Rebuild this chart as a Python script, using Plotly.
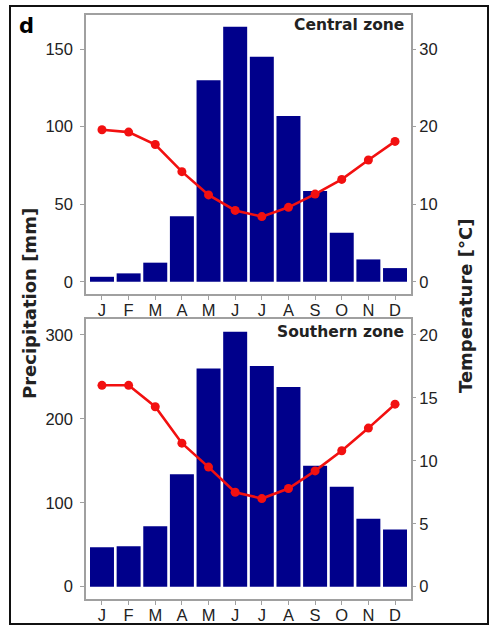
import plotly.graph_objects as go

# Monthly climate normals for two zones
months = ["J", "F", "M", "A", "M", "J", "J", "A", "S", "O", "N", "D"]
month_pos = list(range(1, 13))

central_precip = [3.2, 5.4, 12.3, 42.3, 130, 164.5, 145, 106.8, 58.5, 31.6, 14.4, 8.8]
central_temp = [19.6, 19.3, 17.7, 14.2, 11.2, 9.2, 8.4, 9.6, 11.3, 13.2, 15.7, 18.1]

southern_precip = [47, 48, 72, 134, 260, 304, 263, 238, 144, 119, 81, 68]
southern_temp = [16.0, 16.0, 14.3, 11.4, 9.5, 7.5, 7.0, 7.8, 9.2, 10.8, 12.6, 14.5]

W, H = 491, 627
BAR = "#00008B"
RED = "#F21010"
FRAME = "#A0A0A0"
TXT = "#222222"
TICKFONT = dict(family="Liberation Sans, Arial, sans-serif", size=16.5, color=TXT)
BOLD = "DejaVu Sans"

fig = go.Figure()

panels = [
    dict(precip=central_precip, temp=central_temp, x="x", yp="y", yt="y2"),
    dict(precip=southern_precip, temp=southern_temp, x="x2", yp="y3", yt="y4"),
]
for p in panels:
    fig.add_trace(go.Bar(x=month_pos, y=p["precip"], xaxis=p["x"], yaxis=p["yp"],
                         marker=dict(color=BAR, line=dict(width=0)), showlegend=False))
    fig.add_trace(go.Scatter(x=month_pos, y=p["temp"], xaxis=p["x"], yaxis=p["yt"],
                             mode="lines+markers", line=dict(color=RED, width=2.6),
                             marker=dict(color=RED, size=9), showlegend=False))


def px_x(v):
    return v / W


def px_y(v):
    return 1 - v / H


xdom = [px_x(86), px_x(411)]
top_dom = [px_y(294), px_y(15)]
bot_dom = [px_y(599.3), px_y(319.3)]

xcommon = dict(domain=xdom, range=[0.4, 12.6], tickvals=month_pos, ticktext=months,
               showline=True, mirror=True, linecolor=FRAME, linewidth=1.5,
               ticks="outside", ticklen=4, tickcolor=FRAME, tickfont=TICKFONT,
               ticklabelstandoff=-4, showgrid=False, zeroline=False, fixedrange=True)
ycommon = dict(showline=True, mirror=True, linecolor=FRAME, linewidth=1.5,
               ticks="outside", ticklen=4, tickcolor=FRAME, tickfont=TICKFONT,
               ticklabelstandoff=4, showgrid=False, zeroline=False)
y2common = dict(showline=False, ticks="outside", ticklen=4, tickcolor=FRAME,
                tickfont=TICKFONT, ticklabelstandoff=0, showgrid=False,
                zeroline=False, side="right")

fig.update_layout(
    width=W, height=H,
    margin=dict(l=0, r=0, t=0, b=0),
    paper_bgcolor="white", plot_bgcolor="white",
    bargap=0.1,
    xaxis=dict(anchor="y", **xcommon),
    yaxis=dict(domain=top_dom, range=[-7.9, 172], tickvals=[0, 50, 100, 150], **ycommon),
    yaxis2=dict(overlaying="y", anchor="x", range=[-7.9 / 5, 172 / 5],
                tickvals=[0, 10, 20, 30], **y2common),
    xaxis2=dict(anchor="y3", **xcommon),
    yaxis3=dict(domain=bot_dom, range=[-15.1, 318.7], tickvals=[0, 100, 200, 300], **ycommon),
    yaxis4=dict(overlaying="y3", anchor="x2", range=[-15.1 / 15, 318.7 / 15],
                tickvals=[0, 5, 10, 15, 20], **y2common),
)

annotations = [
    dict(text="<b>d</b>", x=px_x(17), y=px_y(26), xanchor="left", yanchor="middle",
         font=dict(family=BOLD, size=21, color="black")),
    dict(text="<b>Central zone</b>", x=px_x(406), y=px_y(25), xanchor="right", yanchor="middle",
         font=dict(family=BOLD, size=15.5, color=TXT)),
    dict(text="<b>Southern zone</b>", x=px_x(406), y=px_y(331.5), xanchor="right", yanchor="middle",
         font=dict(family=BOLD, size=15.5, color=TXT)),
    dict(text="<b>Precipitation [mm]</b>", x=px_x(29), y=px_y(304), textangle=-90,
         xanchor="center", yanchor="middle", font=dict(family=BOLD, size=18, color=TXT)),
    dict(text="<b>Temperature [°C]</b>", x=px_x(465), y=px_y(306), textangle=-90,
         xanchor="center", yanchor="middle", font=dict(family=BOLD, size=18, color=TXT)),
]
for a in annotations:
    a.update(xref="paper", yref="paper", showarrow=False)
fig.update_layout(annotations=annotations)

# outer border of the figure
fig.add_shape(type="rect", xref="paper", yref="paper",
              x0=px_x(10), x1=px_x(488), y0=px_y(624), y1=px_y(6),
              line=dict(color="#111111", width=2), fillcolor="rgba(0,0,0,0)", layer="above")

fig.write_html("out.html")
